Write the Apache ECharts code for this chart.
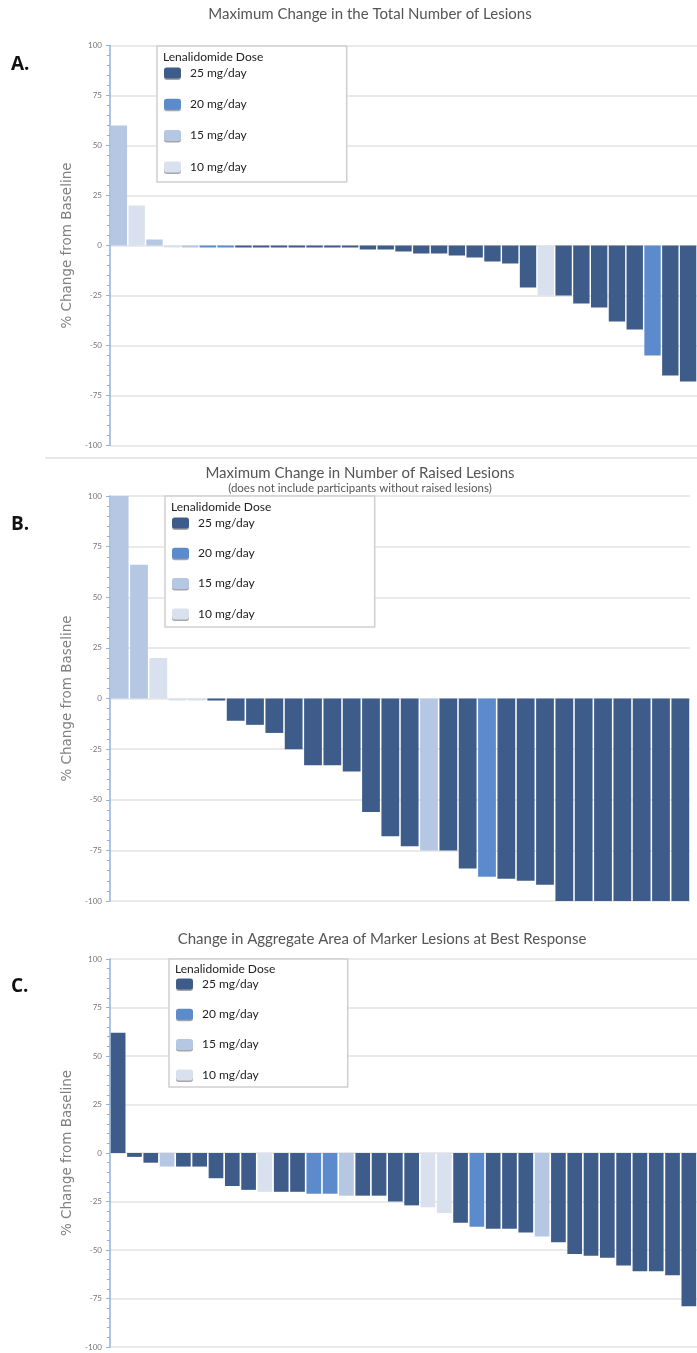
<!DOCTYPE html>
<html>
<head>
<meta charset="utf-8">
<script src="https://cdn.jsdelivr.net/npm/echarts@6/dist/echarts.min.js"></script>
<style>
body { margin: 0; background: #fff; width: 697px; height: 1353px; position: relative; overflow: hidden; }
.panel { position: absolute; left: 0; width: 697px; }
</style>
</head>
<body>
<div id="chartA" class="panel" style="top:0;height:458px"></div>
<div id="sep" style="position:absolute;left:45px;top:457px;width:652px;height:2px;background:#e8e8e8"></div>
<div id="chartB" class="panel" style="top:460px;height:455px"></div>
<div id="chartC" class="panel" style="top:915px;height:438px"></div>
<script>
var doseLevels = [25, 20, 15, 10];
var doseNames = ['25 mg/day', '20 mg/day', '15 mg/day', '10 mg/day'];
var doseColors = ['#3e5c8a', '#5b8bcc', '#b5c7e2', '#d9e1ef'];

// A. max change in total number of lesions
var totalValues = [60, 20, 3, -1, -1, -1, -1, -1, -1, -1, -1, -1, -1, -1, -2, -2, -3, -4, -4, -5, -6, -8, -9,
    -21, -25, -25, -29, -31, -38, -42, -55, -65, -68];
var totalDoses = [15, 10, 15, 10, 15, 20, 20, 25, 25, 25, 25, 25, 25, 25, 25, 25, 25, 25, 25, 25, 25, 25, 25,
    25, 10, 25, 25, 25, 25, 25, 20, 25, 25];

// B. max change in number of raised lesions
var raisedValues = [100, 66, 20, -1, -1, -1, -11, -13, -17, -25, -33, -33, -36, -56, -68, -73, -75, -75, -84,
    -88, -89, -90, -92, -100, -100, -100, -100, -100, -100, -100];
var raisedDoses = [15, 15, 10, 10, 10, 25, 25, 25, 25, 25, 25, 25, 25, 25, 25, 25, 15, 25, 25,
    20, 25, 25, 25, 25, 25, 25, 25, 25, 25, 25];

// C. change in aggregate area of marker lesions
var areaValues = [62, -2, -5, -7, -7, -7, -13, -17, -19, -20, -20, -20, -21, -21, -22, -22, -22, -25, -27,
    -28, -31, -36, -38, -39, -39, -41, -43, -46, -52, -53, -54, -58, -61, -61, -63, -79];
var areaDoses = [25, 25, 25, 15, 25, 25, 25, 25, 25, 10, 25, 25, 20, 20, 15, 25, 25, 25, 25,
    10, 10, 25, 20, 25, 25, 25, 15, 25, 25, 25, 25, 25, 25, 25, 25, 25];

function buildOption(cfg) {
    var cats = cfg.values.map(function (v, i) { return i + 1; });
    var series = doseLevels.map(function (dose, k) {
        return {
            name: doseNames[k],
            type: 'bar',
            barGap: '-100%',
            barCategoryGap: cfg.gap,
            itemStyle: { color: doseColors[k] },
            data: cfg.values.map(function (v, i) { return cfg.doses[i] === dose ? v : '-'; })
        };
    });
    var graphics = [
        { type: 'text', x: cfg.titleX, y: cfg.titleY, z: 100,
          style: { text: cfg.title, fill: '#555', font: '15px Lato', align: 'center', verticalAlign: 'middle' } },
        { type: 'text', x: 11, y: cfg.letterY, z: 100,
          style: { text: cfg.letter, fill: '#111', font: 'bold 19px "Open Sans"', verticalAlign: 'middle' } },
        { type: 'text', x: cfg.legend.x + 6, y: cfg.legend.headY, z: 100,
          style: { text: 'Lenalidomide Dose', fill: '#222', font: '12px Lato', verticalAlign: 'middle' } }
    ];
    if (cfg.subtitle) {
        graphics.push({ type: 'text', x: cfg.titleX, y: cfg.titleY + 15, z: 100,
          style: { text: cfg.subtitle, fill: '#555', font: '11.5px Lato', align: 'center', verticalAlign: 'middle' } });
    }
    return {
        animation: false,
        grid: { left: 110, top: cfg.gridTop, width: cfg.gridWidth, height: cfg.gridHeight },
        legend: {
            orient: 'vertical',
            left: cfg.legend.x,
            top: cfg.legend.y,
            data: doseNames,
            itemWidth: 17,
            itemHeight: 11,
            itemGap: cfg.legend.gap,
            padding: [cfg.legend.padTop, cfg.legend.padRight, cfg.legend.padBottom, 7],
            borderColor: '#cfcfcf',
            borderWidth: 1.5,
            backgroundColor: '#fff',
            selectedMode: false,
            itemStyle: { shadowColor: 'rgba(0,0,0,0.35)', shadowOffsetY: 1.5, shadowBlur: 0 },
            textStyle: { fontSize: 12, fontFamily: 'Lato', color: '#222', lineHeight: 14, padding: [0, 0, 0, 4] }
        },
        xAxis: {
            type: 'category',
            data: cats,
            axisLine: { show: false },
            axisTick: { show: false },
            axisLabel: { show: false }
        },
        yAxis: {
            type: 'value',
            min: -100,
            max: 100,
            interval: 25,
            name: '% Change from Baseline',
            nameLocation: 'middle',
            nameGap: 33,
            nameTextStyle: { fontSize: 13.5, fontFamily: 'DejaVu Sans', color: '#808080' },
            axisLine: { show: true, lineStyle: { color: '#8fb1df', width: 1.5 } },
            axisTick: { show: true, length: 4, lineStyle: { color: '#8fb1df' } },
            minorTick: { show: true, splitNumber: 5, length: 3, lineStyle: { color: '#8fb1df' } },
            axisLabel: { fontSize: 8, fontFamily: 'Lato', color: '#777', margin: 8 },
            splitLine: { lineStyle: { color: '#e3e3e3', width: 1.5 } }
        },
        graphic: graphics,
        series: series
    };
}

var chartA = echarts.init(document.getElementById('chartA'));
chartA.setOption(buildOption({
    values: totalValues, doses: totalDoses, gap: '8%',
    gridTop: 45.5, gridWidth: 588, gridHeight: 400,
    title: 'Maximum Change in the Total Number of Lesions', titleX: 370, titleY: 14,
    letter: 'A.', letterY: 65,
    legend: { x: 157, y: 46, headY: 57, gap: 17.3, padTop: 20, padBottom: 8, padRight: 100 }
}));

var chartB = echarts.init(document.getElementById('chartB'));
chartB.setOption(buildOption({
    values: raisedValues, doses: raisedDoses, gap: '8%',
    gridTop: 36, gridWidth: 580, gridHeight: 405,
    title: 'Maximum Change in Number of Raised Lesions', titleX: 360, titleY: 13,
    subtitle: '(does not include participants without raised lesions)',
    letter: 'B.', letterY: 65,
    legend: { x: 165, y: 36, headY: 47, gap: 16.3, padTop: 20, padBottom: 6, padRight: 120 }
}));

var chartC = echarts.init(document.getElementById('chartC'));
chartC.setOption(buildOption({
    values: areaValues, doses: areaDoses, gap: '10%',
    gridTop: 44, gridWidth: 590, gridHeight: 388,
    title: 'Change in Aggregate Area of Marker Lesions at Best Response', titleX: 382, titleY: 24,
    letter: 'C.', letterY: 72,
    legend: { x: 169, y: 44, headY: 54, gap: 16.3, padTop: 18, padBottom: 5, padRight: 89 }
}));
</script>
</body>
</html>
